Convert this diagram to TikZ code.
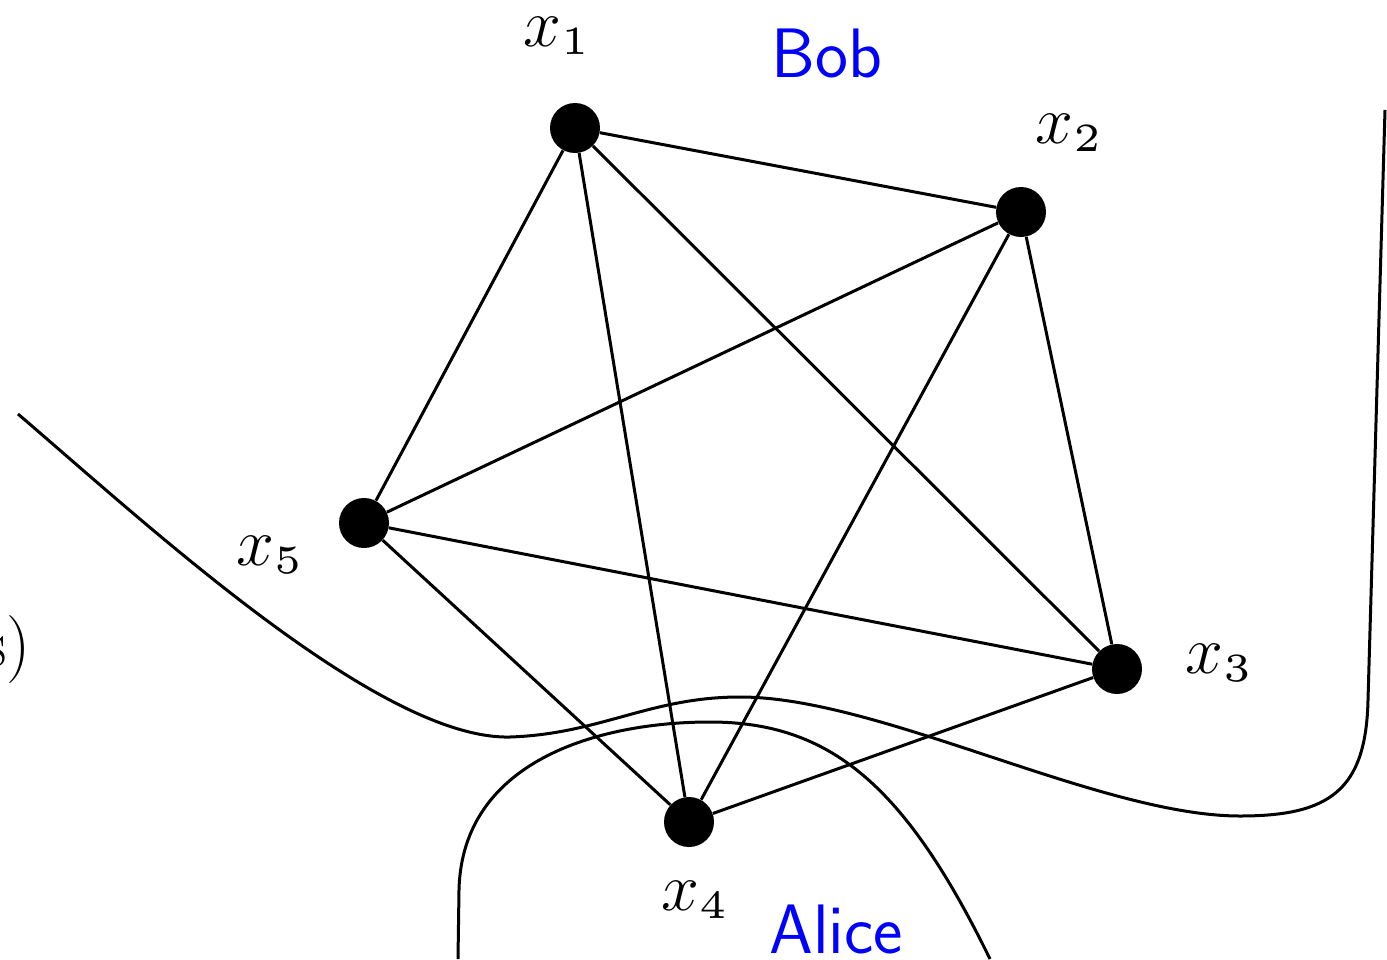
\documentclass[tikz,border=0pt]{standalone}
\DeclareFontShape{OML}{cmm}{m}{it}{<-6>cmmi5 <6-7>cmmi6 <7-8>cmmi7 <8-9>cmmi8 <9-10>cmmi9 <10-12>cmmi10 <12->cmmi12}{}
\DeclareFontShape{OT1}{cmr}{m}{n}{<-22>cmr5 <22->cmr12}{}
\DeclareMathSizes{34}{34}{20}{14}
\begin{document}
\begin{tikzpicture}[x=0.5pt,y=-0.5pt,
  vtx/.style={circle,fill=black,inner sep=0pt,minimum size=25pt},
  edge/.style={line width=1.5pt},
  region/.style={line width=1.5pt},
  lbl/.style={inner sep=0pt,font=\fontsize{34}{40}\selectfont},
  who/.style={inner sep=0pt,text=blue,font=\fontsize{35}{40}\selectfont\sffamily}]
\useasboundingbox (0,0) rectangle (1387,959);
% region curves
\draw[region] (18,414) .. controls (150,527) and (380,740) .. (510,737)
  .. controls (600,734) and (650,697) .. (740,697)
  .. controls (880,697) and (1100,816) .. (1240,816)
  .. controls (1330,816) and (1366,790) .. (1368,700) -- (1385,110);
\draw[region] (458,959) -- (459,890) .. controls (462,760) and (600,722) .. (710,722)
  .. controls (830,722) and (905,785) .. (990,959);
% vertices
\node[vtx] (x1) at (575,128) {};
\node[vtx] (x2) at (1021,212) {};
\node[vtx] (x3) at (1117,669) {};
\node[vtx] (x4) at (689,822) {};
\node[vtx] (x5) at (364,523) {};
% edges
\draw[edge] (x1) -- (x2);
\draw[edge] (x1) -- (x3);
\draw[edge] (x1) -- (x4);
\draw[edge] (x1) -- (x5);
\draw[edge] (x2) -- (x3);
\draw[edge] (x2) -- (x4);
\draw[edge] (x2) -- (x5);
\draw[edge] (x3) -- (x4);
\draw[edge] (x3) -- (x5);
\draw[edge] (x4) -- (x5);
% labels
\node[lbl,anchor=base west] (l1) at (523,46) {$x_1$};
\node[lbl,anchor=base west] (l2) at (1035,143) {$x_2$};
\node[lbl,anchor=base west] (l3) at (1185,673) {$x_3$};
\node[lbl,anchor=base west] (l4) at (661,910) {$x_4$};
\node[lbl,anchor=base west] (l5) at (236,565) {$x_5$};
\node[who,anchor=base west] (bob) at (771,77) {Bob};
\node[who,anchor=base west] (alice) at (769,953) {Alice};
\node[lbl,anchor=base east] (cut) at (31,666) {s)};
\end{tikzpicture}
\end{document}
